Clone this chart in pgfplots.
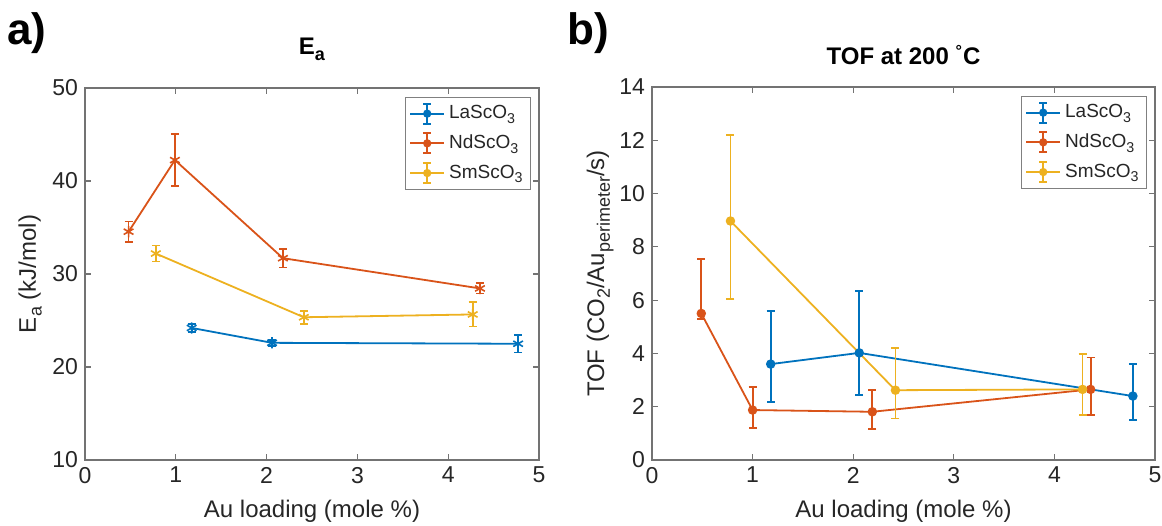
\documentclass[border=0pt]{standalone}
\usepackage{fontspec}
\setmainfont{Liberation Sans}
\usepackage{pgfplots}
\usepackage{pgfplotstable}
\pgfplotsset{compat=1.18}
\definecolor{mblue}{RGB}{0,114,189}
\definecolor{morange}{RGB}{217,83,25}
\definecolor{myellow}{RGB}{237,177,32}

\pgfplotstableread{
x y e
1.175 24.2 0.45
2.06 22.6 0.3
4.77 22.5 0.95
}\EaLa
\pgfplotstableread{
x y e
0.48 34.55 1.1
0.99 42.25 2.8
2.18 31.7 1.0
4.35 28.45 0.55
}\EaNd
\pgfplotstableread{
x y e
0.78 32.2 0.86
2.41 25.35 0.7
4.27 25.65 1.3
}\EaSm
\pgfplotstableread{
x y ep em
1.18 3.60 1.99 1.41
2.06 4.02 2.32 1.57
4.78 2.40 1.19 0.90
}\TofLa
\pgfplotstableread{
x y ep em
0.49 5.50 2.04 0.21
1.00 1.875 0.875 0.685
2.19 1.81 0.81 0.65
4.36 2.65 1.20 0.96
}\TofNd
\pgfplotstableread{
x y ep em
0.78 8.97 3.24 2.92
2.42 2.62 1.57 1.06
4.28 2.65 1.32 0.96
}\TofSm

\newcommand{\subl}[1]{\raisebox{-0.45ex}{\fontsize{0.75em}{1em}\selectfont #1}}
\pgfplotsset{
  mystyle/.style={
    scale only axis,
    axis line style={black!55, line width=0.6pt},
    every tick/.style={black!55, line width=0.6pt},
    major tick length=3pt,
    xmin=0, xmax=5, xtick={0,1,2,3,4,5},
    tick label style={font=\fontsize{11.5}{13}\selectfont, text=black!85},
    /pgf/number format/assume math mode=true,
    xlabel style={font=\fontsize{12}{14}\selectfont, text=black!85, at={(axis description cs:0.5,-0.137)}, anchor=center},
    ylabel style={font=\fontsize{12}{14}\selectfont, text=black!85, anchor=center},
    title style={font=\bfseries\fontsize{12}{14}\selectfont, anchor=base},
    legend style={at={(1,1)}, anchor=north east, xshift=-4pt, yshift=-4.5pt,
      draw=black!50, line width=0.5pt, font=\fontsize{9.5}{11}\selectfont,
      inner sep=2pt, row sep=2.6pt, text=black!85},
    legend cell align=left,
    legend image code/.code={
      \draw[##1, line width=0.9pt] (0pt,0pt) -- (17pt,0pt);
      \draw[##1, line width=0.9pt] (8.5pt,-5pt) -- (8.5pt,5pt);
      \draw[##1, line width=0.9pt] (6.5pt,-5pt) -- (10.5pt,-5pt);
      \draw[##1, line width=0.9pt] (6.5pt,5pt) -- (10.5pt,5pt);
      \fill[##1] (8.5pt,0pt) circle (1.6pt);
    },
    error bars/y dir=both,
    error bars/y explicit,
    error bars/error bar style={line width=0.9pt},
    error bars/error mark options={rotate=90, mark size=2pt, line width=0.9pt},
  },
}

\begin{document}
\begin{tikzpicture}
\useasboundingbox (0,0) rectangle (581pt,262.5pt);
\node[anchor=base west, inner sep=0pt] at (3.5pt,240pt) {\fontsize{22}{26}\bfseries a)};
\node[anchor=base west, inner sep=0pt] at (283.5pt,240pt) {\fontsize{22}{26}\bfseries b)};

\begin{axis}[mystyle,
  at={(42.5pt,32.5pt)}, anchor=south west,
  width=227pt, height=186pt,
  ymin=10, ymax=50, ytick={10,20,30,40,50},
  title={E\subl{a}}, title style={at={(axis description cs:0.5,1.057)}},
  xlabel={Au loading (mole \%)},
  ylabel={E\subl{a} (kJ/mol)},
  ylabel style={at={(axis description cs:-0.121,0.5)}},
]
\addplot[mblue, line width=0.9pt, mark=asterisk, mark size=2.8pt, mark options={line width=0.8pt}]
  table[x=x, y=y, y error=e] {\EaLa};
\addlegendentry{LaScO\subl{3}}
\addplot[morange, line width=0.9pt, mark=asterisk, mark size=2.8pt, mark options={line width=0.8pt}]
  table[x=x, y=y, y error=e] {\EaNd};
\addlegendentry{NdScO\subl{3}}
\addplot[myellow, line width=0.9pt, mark=asterisk, mark size=2.8pt, mark options={line width=0.8pt}]
  table[x=x, y=y, y error=e] {\EaSm};
\addlegendentry{SmScO\subl{3}}
\end{axis}

\begin{axis}[mystyle,
  at={(326pt,32.5pt)}, anchor=south west,
  width=251.5pt, height=186.5pt,
  ymin=0, ymax=14, ytick={0,2,4,6,8,10,12,14},
  title={TOF at 200 \textsuperscript{°}C}, title style={at={(axis description cs:0.5,1.027)}},
  xlabel={Au loading (mole \%)},
  ylabel={TOF (CO\subl{2}/Au\subl{perimeter}/s)},
  ylabel style={at={(axis description cs:-0.103,0.5)}},
]
\addplot[mblue, line width=0.9pt, mark=*, mark size=1.9pt]
  table[x=x, y=y, y error plus=ep, y error minus=em] {\TofLa};
\addlegendentry{LaScO\subl{3}}
\addplot[morange, line width=0.9pt, mark=*, mark size=1.9pt]
  table[x=x, y=y, y error plus=ep, y error minus=em] {\TofNd};
\addlegendentry{NdScO\subl{3}}
\addplot[myellow, line width=0.9pt, mark=*, mark size=1.9pt]
  table[x=x, y=y, y error plus=ep, y error minus=em] {\TofSm};
\addlegendentry{SmScO\subl{3}}
\end{axis}
\end{tikzpicture}
\end{document}
